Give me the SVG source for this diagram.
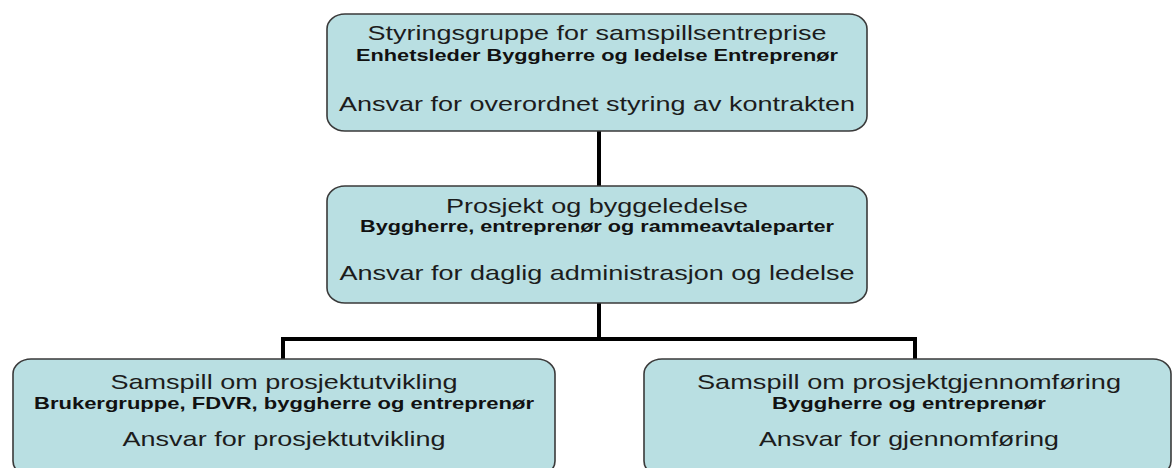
<svg xmlns="http://www.w3.org/2000/svg" width="1173" height="468" viewBox="0 0 1173 468">
  <style>
    .box { fill: #b9dfe2; stroke: #3a3a3a; stroke-width: 1.6; }
    .conn { stroke: #000; stroke-width: 4; fill: none; stroke-linecap: butt; }
    .t { font-family: "Liberation Sans", Arial, sans-serif; font-size: 21px; fill: #1c1c1c; text-anchor: middle; }
    .b { font-family: "Liberation Sans", Arial, sans-serif; font-size: 16.5px; font-weight: bold; fill: #111; text-anchor: middle; }
  </style>
  <rect width="1173" height="468" fill="#fff"/>
  <g id="connectors">
    <line class="conn" x1="599" y1="131" x2="599" y2="186"/>
    <line class="conn" x1="599" y1="303" x2="599" y2="339"/>
    <polyline class="conn" points="283,359 283,339 915,339 915,359"/>
  </g>
  <g id="node-styringsgruppe">
    <rect class="box" x="327" y="14" width="540" height="117" rx="18" ry="15"/>
    <text class="t" x="597" y="40" textLength="459" lengthAdjust="spacingAndGlyphs">Styringsgruppe for samspillsentreprise</text>
    <text class="b" x="597" y="61" textLength="482" lengthAdjust="spacingAndGlyphs">Enhetsleder Byggherre og ledelse Entreprenør</text>
    <text class="t" x="597" y="111" textLength="516" lengthAdjust="spacingAndGlyphs">Ansvar for overordnet styring av kontrakten</text>
  </g>
  <g id="node-prosjekt">
    <rect class="box" x="327" y="186" width="540" height="117" rx="18" ry="15"/>
    <text class="t" x="597" y="213" textLength="302" lengthAdjust="spacingAndGlyphs">Prosjekt og byggeledelse</text>
    <text class="b" x="597" y="232" textLength="474" lengthAdjust="spacingAndGlyphs">Byggherre, entreprenør og rammeavtaleparter</text>
    <text class="t" x="597" y="280" textLength="515" lengthAdjust="spacingAndGlyphs">Ansvar for daglig administrasjon og ledelse</text>
  </g>
  <g id="node-utvikling">
    <rect class="box" x="13" y="359" width="542" height="117" rx="18" ry="15"/>
    <text class="t" x="284" y="389" textLength="347" lengthAdjust="spacingAndGlyphs">Samspill om prosjektutvikling</text>
    <text class="b" x="284" y="409" textLength="500" lengthAdjust="spacingAndGlyphs">Brukergruppe, FDVR, byggherre og entreprenør</text>
    <text class="t" x="284" y="446" textLength="323" lengthAdjust="spacingAndGlyphs">Ansvar for prosjektutvikling</text>
  </g>
  <g id="node-gjennomforing">
    <rect class="box" x="644" y="359" width="527" height="117" rx="18" ry="15"/>
    <text class="t" x="909" y="389" textLength="424" lengthAdjust="spacingAndGlyphs">Samspill om prosjektgjennomføring</text>
    <text class="b" x="909" y="409" textLength="274" lengthAdjust="spacingAndGlyphs">Byggherre og entreprenør</text>
    <text class="t" x="909" y="446" textLength="300" lengthAdjust="spacingAndGlyphs">Ansvar for gjennomføring</text>
  </g>
</svg>
